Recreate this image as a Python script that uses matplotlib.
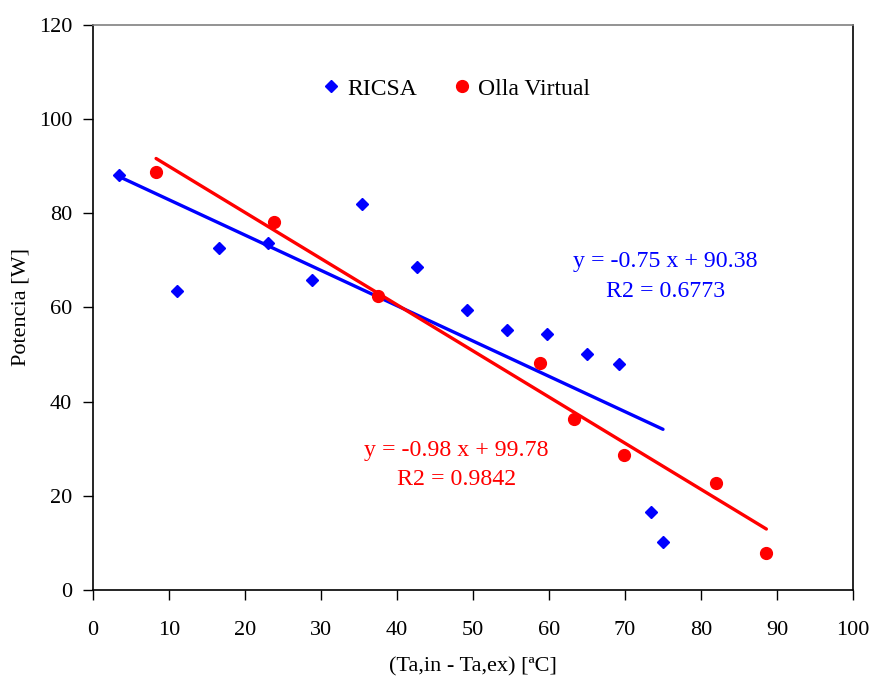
import matplotlib
matplotlib.use("Agg")
import matplotlib.pyplot as plt
import numpy as np

plt.rcParams['font.family'] = ['Liberation Serif', 'DejaVu Serif']

# RICSA measurements
ricsa_dt = [3.4, 11.0, 16.6, 23.0, 28.8, 35.4, 42.6, 49.2, 54.5, 59.7, 65.0, 69.2, 73.4, 75.0]
ricsa_pot = [88.1, 63.5, 72.6, 73.7, 65.8, 82.0, 68.6, 59.5, 55.2, 54.4, 50.1, 48.0, 16.6, 10.2]

# Olla Virtual measurements
olla_dt = [8.3, 23.8, 37.5, 58.8, 63.3, 69.9, 82.0, 88.6]
olla_pot = [88.8, 78.2, 62.4, 48.2, 36.3, 28.7, 22.7, 7.8]

# trend lines (slope, intercept, r2) as printed on the chart
ricsa_fit = (-0.75, 90.38, 0.6773)
olla_fit = (-0.98, 99.78, 0.9842)

fig = plt.figure(figsize=(8.71, 6.78), dpi=100)
ax = fig.add_axes([93/871, 1 - 590/678, 760/871, 565/678])

ax.plot(ricsa_dt, ricsa_pot, linestyle='none', marker='D', markersize=6.5,
        color='#0000ff', label='RICSA', zorder=3)
ax.plot(olla_dt, olla_pot, linestyle='none', marker='o', markersize=8.5,
        color='#ff0000', label='Olla Virtual', zorder=3)

xr = np.array([min(ricsa_dt), max(ricsa_dt)])
ax.plot(xr, ricsa_fit[0] * xr + ricsa_fit[1], color='#0000ff', lw=2.4,
        solid_capstyle='round', zorder=2)
xo = np.array([min(olla_dt), max(olla_dt)])
ax.plot(xo, olla_fit[0] * xo + olla_fit[1], color='#ff0000', lw=2.4,
        solid_capstyle='round', zorder=2)

ax.text(75.3, 69.7, 'y = %.2f x + %.2f' % (ricsa_fit[0], ricsa_fit[1]),
        color='#0000ff', fontsize=17.2, ha='center', va='center')
ax.text(75.3, 63.3, 'R2 = %.4f' % ricsa_fit[2],
        color='#0000ff', fontsize=17.2, ha='center', va='center')
ax.text(47.8, 29.6, 'y = %.2f x + %.2f' % (olla_fit[0], olla_fit[1]),
        color='#ff0000', fontsize=17.2, ha='center', va='center')
ax.text(47.8, 23.4, 'R2 = %.4f' % olla_fit[2],
        color='#ff0000', fontsize=17.2, ha='center', va='center')

ax.set_xlim(0, 100)
ax.set_ylim(0, 120)
ax.set_xticks(np.arange(0, 101, 10))
ax.set_yticks(np.arange(0, 121, 20))
ax.tick_params(direction='out', length=7, width=1, labelsize=16)
ax.tick_params(axis='x', pad=15)
ax.tick_params(axis='y', pad=8)
for s in ax.spines.values():
    s.set_linewidth(1.2)
ax.spines['top'].set_color('#808080')
ax.spines['right'].set_color('#000000')

ax.set_xlabel('(Ta,in - Ta,ex) [ªC]', fontsize=16, labelpad=13)
ax.set_ylabel('Potencia [W]', fontsize=16, labelpad=6)

ax.legend(loc='center', bbox_to_anchor=(0.476, 0.887), ncol=2, frameon=False,
          fontsize=17, handletextpad=0.2, columnspacing=1.4, handlelength=1.0,
          borderpad=0)

fig.savefig('out.png', dpi=100)
